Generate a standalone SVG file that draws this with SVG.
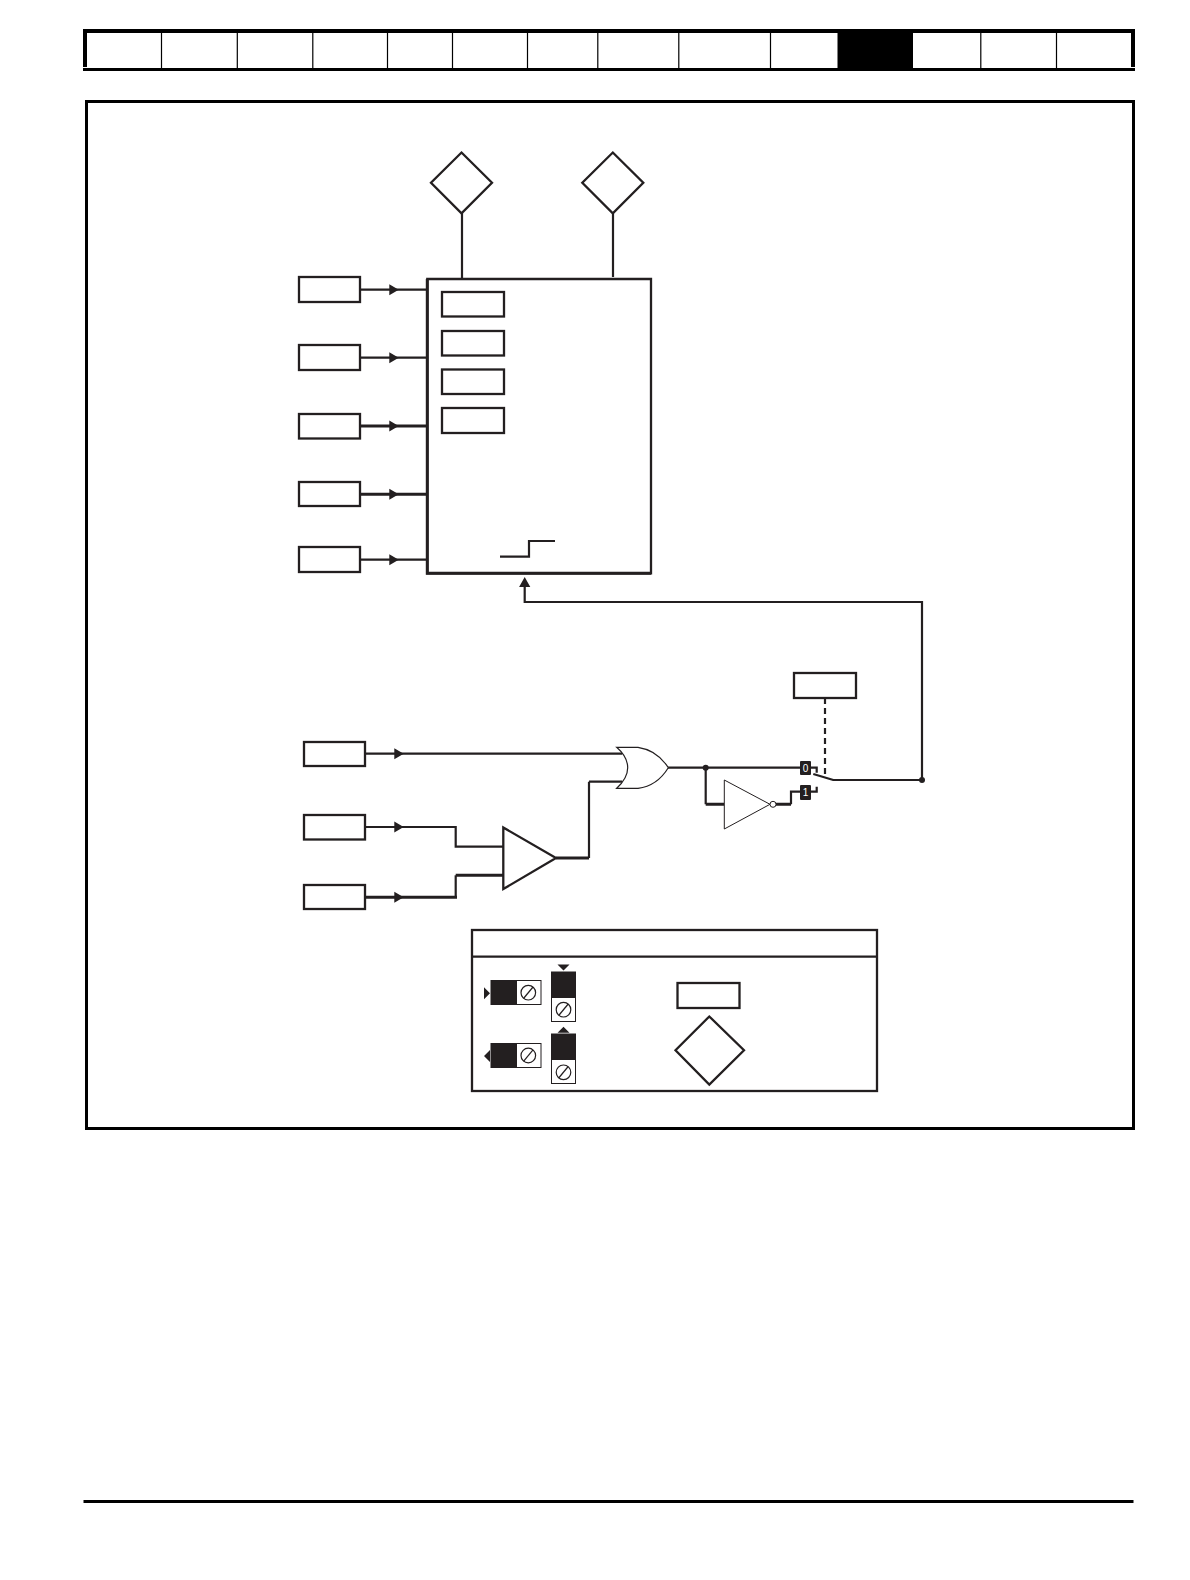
<svg xmlns="http://www.w3.org/2000/svg" width="1190" height="1580" viewBox="0 0 1190 1580">
<defs>
<style>
.b{fill:#fff;stroke:#231f20;stroke-width:2.300}
.l{fill:none;stroke:#231f20;stroke-width:2.200}
.h{fill:none;stroke:#231f20;stroke-width:3}
.t{fill:none;stroke:#231f20;stroke-width:1.200}
.k{fill:#231f20}
.n{fill:#000}
.d{stroke:#000;stroke-width:1.200}
.s{fill:#fff;stroke:#231f20;stroke-width:1}
.c{font:10px "Liberation Sans",sans-serif;fill:#fff;text-anchor:middle}
</style>
</defs>
<g id="page-header">
<rect class="n" x="83" y="29" width="1052" height="4"/>
<rect class="n" x="83" y="68" width="1052" height="3"/>
<rect class="n" x="83" y="29" width="4" height="38"/>
<rect class="n" x="1131" y="29" width="4" height="38"/>
<rect class="n" x="837.500" y="29" width="75.500" height="42"/>
<path class="d" d="M161.500 33V68M237.300 33V68M312.800 33V68M387.500 33V68M452.500 33V68M527.500 33V68M597.800 33V68M678.800 33V68M770.500 33V68M980.800 33V68M1056.500 33V68"/>
</g>
<rect id="frame" x="86.500" y="101.500" width="1047" height="1027" fill="none" stroke="#000" stroke-width="3"/>
<rect id="page-footer" class="n" x="83.500" y="1500" width="1050" height="3"/>
<g id="connectors">
<path class="l" d="M462 213V279M613 213V277"/>
<path class="l" d="M360 289.700H427M360 357.700H427M360 559.700H427"/>
<path class="h" d="M360 426H427M360 494.300H427"/>
<path class="l" d="M524.700 586V602H922V780M833 780H922"/>
<path class="l" d="M365 753.700H622M365 827H455.700V846.700H503M589 781.700H622"/>
<path class="l" d="M455.700 897.300V875.300"/>
<path class="h" d="M365 897.300H457M455.700 875.300H503M556 858H589"/>
<path class="l" d="M589 858V781.700M668 767.700H802M705.700 767.700V804.300"/>
<path class="h" d="M705.700 804.300H724.300M776 804.300H791"/>
<path class="l" d="M791 804.300V791.700H802M810 767.700H816.700V772.700M810 791.700H816.700V786.700M813.300 774L833.300 780"/>
<path class="l" d="M825 698V776" stroke-dasharray="6 4"/>
<circle class="k" cx="705.700" cy="767.700" r="3"/>
<circle class="k" cx="922" cy="780" r="3"/>
<path class="k" d="M389.300 284.200L398.700 289.700L389.300 295.200ZM389.300 352.200L398.700 357.700L389.300 363.200ZM389.300 420.500L398.700 426L389.300 431.500ZM389.300 488.800L398.700 494.300L389.300 499.800ZM389.300 554.200L398.700 559.700L389.300 565.200ZM394.300 748.200L403.700 753.700L394.300 759.200ZM394.300 821.500L403.700 827L394.300 832.500ZM394.300 891.800L403.700 897.300L394.300 902.800ZM524.700 577L530.300 587H519.100Z"/>
</g>
<g id="diamond-1"><path class="b" d="M461.500 152.500L492 182.700L461.500 213.400L431 182.700Z"/></g>
<g id="diamond-2"><path class="b" d="M612.800 152.500L643.300 182.700L612.800 213.400L582.300 182.700Z"/></g>
<g id="input-1"><rect class="b" x="299" y="277" width="61" height="25"/></g>
<g id="input-2"><rect class="b" x="299" y="345" width="61" height="25"/></g>
<g id="input-3"><rect class="b" x="299" y="414" width="61" height="24.500"/></g>
<g id="input-4"><rect class="b" x="299" y="482" width="61" height="24"/></g>
<g id="input-5"><rect class="b" x="299" y="547" width="61" height="25"/></g>
<g id="main-block">
<path d="M427.300 279H651V573.300H427.300Z" fill="#fff" stroke="#231f20" stroke-width="2.300"/>
<path class="h" d="M427.300 279V573.300H651"/>
<rect class="b" x="442" y="292" width="62" height="24.500"/>
<rect class="b" x="442" y="331" width="62" height="24.500"/>
<rect class="b" x="442" y="369.500" width="62" height="24.500"/>
<rect class="b" x="442" y="408" width="62" height="25"/>
<path class="l" d="M500 556.700H529V541H555"/>
</g>
<g id="input-6"><rect class="b" x="304" y="742" width="61" height="24"/></g>
<g id="input-7"><rect class="b" x="304" y="815" width="61" height="24.500"/></g>
<g id="input-8"><rect class="b" x="304" y="885" width="61" height="24"/></g>
<g id="comparator"><path class="b" d="M503.300 827.500V889L556 858Z"/></g>
<g id="or-gate"><path d="M616.700 747.300Q627.700 757 627.700 767.700Q627.700 778 616.700 788.300H638Q657 786 668.300 767.700Q657 750 638 747.300Z" fill="#fff" stroke="#231f20" stroke-width="1.200"/></g>
<g id="inverter"><path d="M724.300 780V829L770 804.300Z" class="s"/><circle class="s" cx="773" cy="804.300" r="3"/></g>
<g id="selector-box"><rect class="b" x="794" y="673" width="62" height="25"/></g>
<g id="switch-0"><rect class="k" x="800" y="761" width="11" height="14" rx="1"/><text class="c" x="805.500" y="771.500">0</text></g>
<g id="switch-1"><rect class="k" x="800" y="785" width="11" height="15" rx="1"/><text class="c" x="805.500" y="796">1</text></g>
<g id="legend">
<rect class="b" x="472" y="930" width="405" height="161"/>
<path class="l" d="M472 956.700H877"/>
<rect class="s" x="491" y="980.500" width="50" height="24"/><rect class="k" x="491" y="980.500" width="26" height="24"/>
<circle class="t" cx="528.300" cy="992.700" r="7.300"/><path class="t" d="M523.500 998.500L533 987"/>
<rect class="s" x="491" y="1043.500" width="50" height="24"/><rect class="k" x="491" y="1043.500" width="26" height="24"/>
<circle class="t" cx="528.300" cy="1055.500" r="7.300"/><path class="t" d="M523.500 1061.300L533 1049.800"/>
<rect class="s" x="551.500" y="972" width="24" height="49.500"/><rect class="k" x="551.500" y="972" width="24" height="26"/>
<circle class="t" cx="563.500" cy="1009.700" r="7.300"/><path class="t" d="M558.700 1015.500L568.200 1004"/>
<rect class="s" x="551.500" y="1034" width="24" height="49.500"/><rect class="k" x="551.500" y="1034" width="24" height="26"/>
<circle class="t" cx="563.500" cy="1072.300" r="7.300"/><path class="t" d="M558.700 1078L568.200 1066.500"/>
<path class="k" d="M484 987.300L490 993.300L484 999.300ZM490 1050L484 1056L490 1062ZM557.500 964.500H569.500L563.500 970.500ZM557.500 1032.700H569.500L563.500 1026.700Z"/>
<rect class="b" x="677.500" y="983" width="62" height="25"/>
<path class="b" d="M709.300 1016.500L744 1050.300L709.300 1084.600L675.500 1050.300Z"/>
</g>
</svg>
